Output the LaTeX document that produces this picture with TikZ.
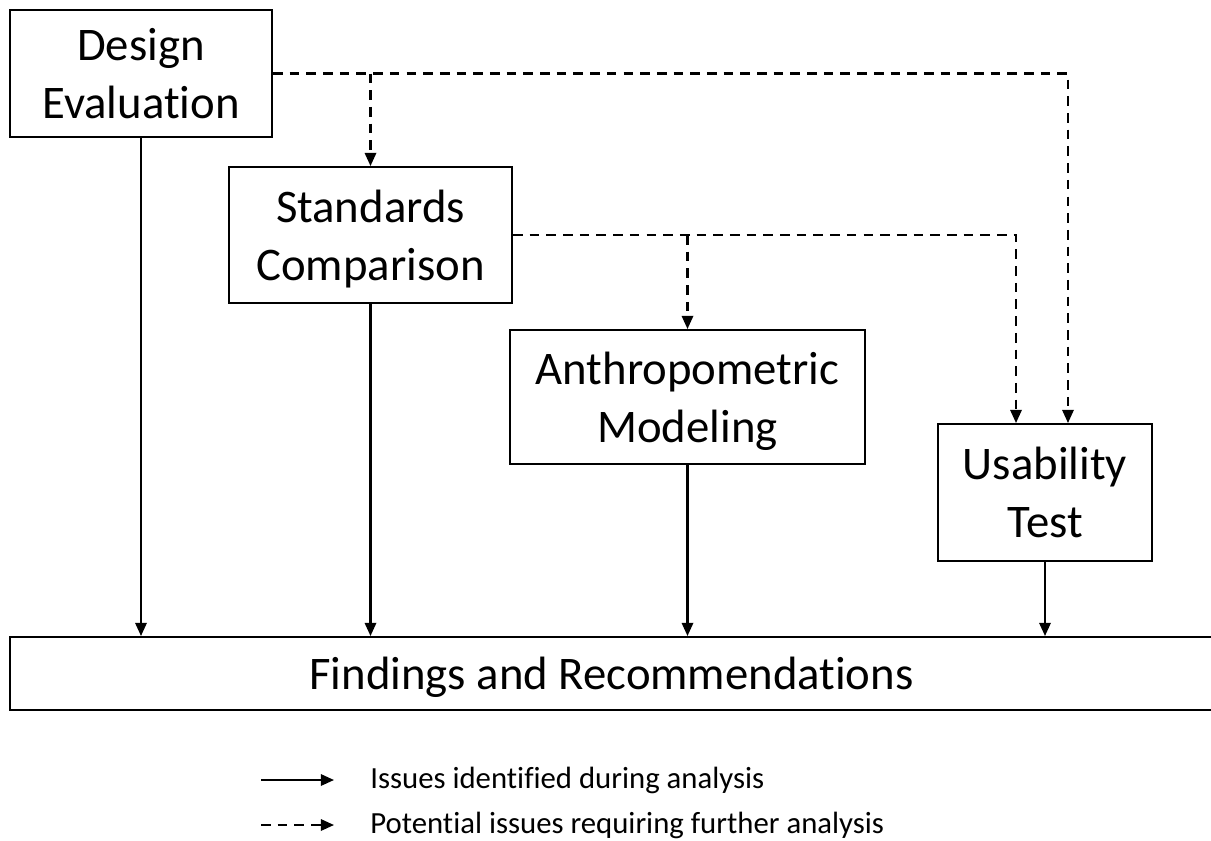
\documentclass[tikz,border=0pt]{standalone}
\usepackage{fontspec}
\setmainfont[Ligatures={NoCommon}]{Carlito}
\usetikzlibrary{arrows.meta, positioning, calc}

\begin{document}
\begin{tikzpicture}[
		x=0.02cm, y=-0.02cm,
		% Style for the method boxes
		methodBox/.style={draw, line width=1.15pt, align=center, inner sep=2pt,
			text depth=0pt, font=\fontsize{26.6}{33}\selectfont},
		% Connector styles
		solidArrow/.style={line width=1.15pt, -{Triangle[width=6.5pt,length=7.5pt]}},
		dashArrow/.style={line width=1.15pt, dash pattern=on 5.5pt off 4pt,
			-{Triangle[width=6.5pt,length=7.5pt]}},
		% Legend text
		legendText/.style={font=\fontsize{17.5}{21}\selectfont, anchor=west, inner sep=0pt}
		]
		\useasboundingbox (0,0) rectangle (1211,840);
		
		% Boxes
		\node[methodBox, minimum width=5.24cm, minimum height=2.54cm] (de) at (141,73.5) {Design\\Evaluation};
		\node[methodBox, minimum width=5.66cm, minimum height=2.72cm] (sc) at (370.5,235) {Standards\\Comparison};
		\node[methodBox, minimum width=7.1cm, minimum height=2.68cm] (am) at (687.5,397) {Anthropometric\\Modeling};
		\node[methodBox, minimum width=4.28cm, minimum height=2.74cm] (ut) at (1045,492.5) {Usability\\Test};
		\node[methodBox, minimum width=24.06cm, minimum height=1.46cm] (fr) at (611.5,673.5) {Findings and Recommendations};
		
		% Issues identified during analysis
		\draw[solidArrow] (de.south) -- (de.south |- fr.north);
		\draw[solidArrow] (sc.south) -- (sc.south |- fr.north);
		\draw[solidArrow] (am.south) -- (am.south |- fr.north);
		\draw[solidArrow] (ut.south) -- (ut.south |- fr.north);
		
		% Potential issues requiring further analysis
		\draw[dashArrow] (de.east) -| ([xshift=0.46cm]ut.north);
		\draw[dashArrow] (de.east -| sc.north) -- (sc.north);
		\draw[dashArrow] (sc.east) -| ([xshift=-0.58cm]ut.north);
		\draw[dashArrow] (sc.east -| am.north) -- (am.north);
		
		% Legend
		\coordinate (solidA) at (261,780);
		\coordinate (solidB) at (334,780);
		\coordinate (dashA) at (261,825);
		\coordinate (dashB) at (334,825);
		\draw[solidArrow] (solidA) -- (solidB);
		\draw[dashArrow] (dashA) -- (dashB);
		\node[legendText, right=0.72cm of solidB] (solidTxt) {Issues identified during analysis};
		\node[legendText, right=0.72cm of dashB] (dashTxt) {Potential issues requiring further analysis};
	\end{tikzpicture}
\end{document}
